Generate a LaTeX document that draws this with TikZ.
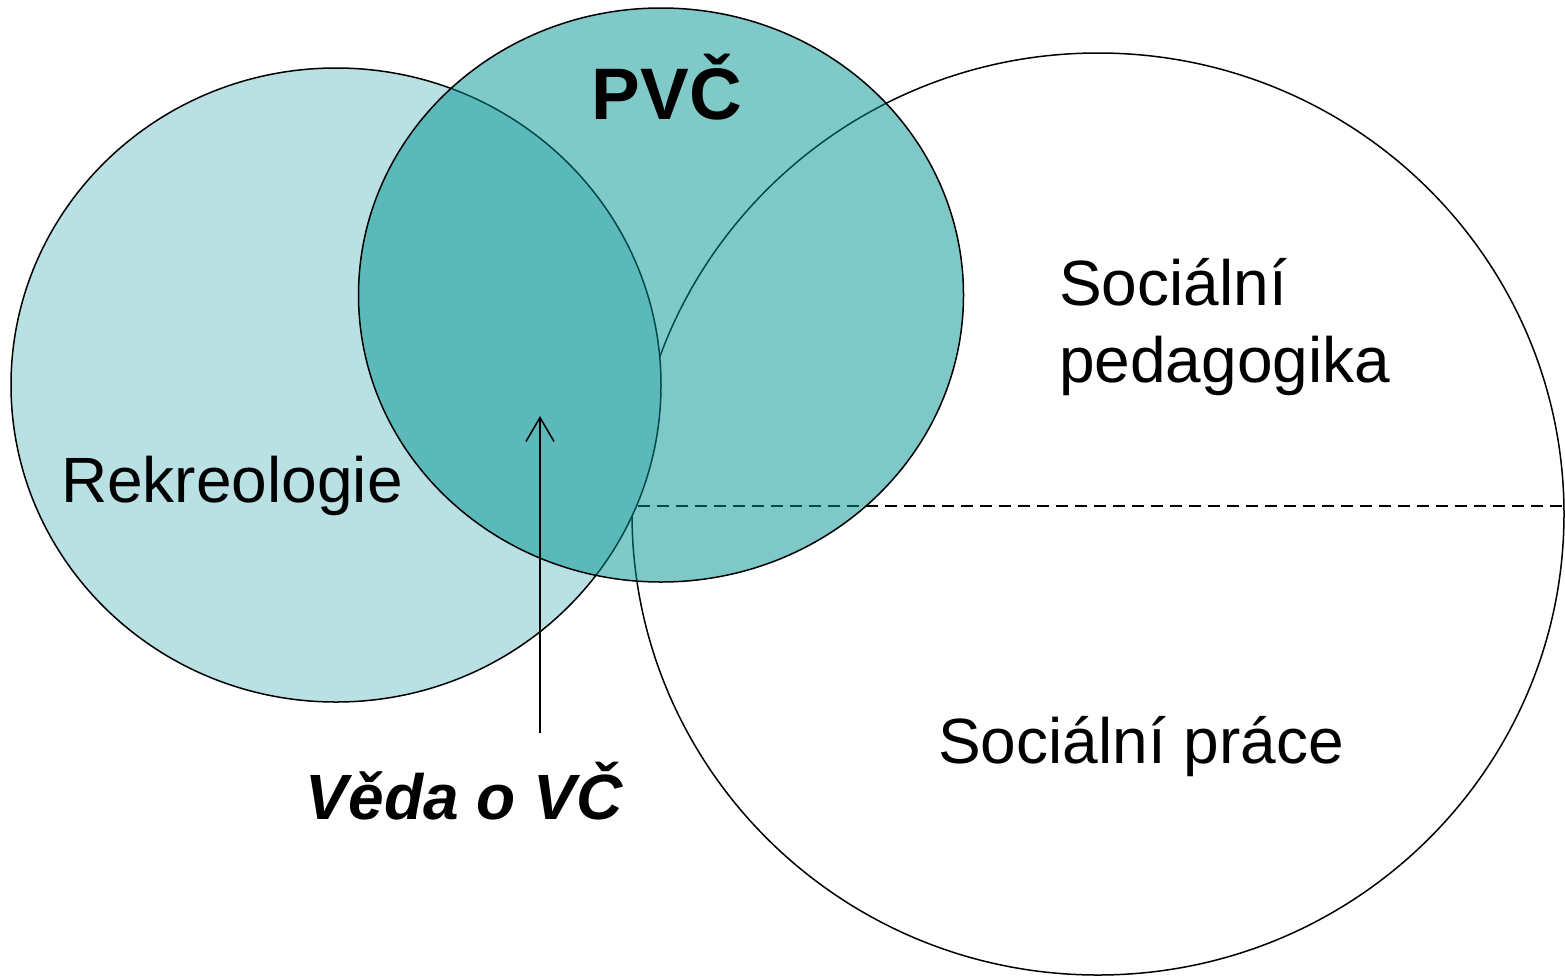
\documentclass[tikz,border=0pt]{standalone}
\usepackage{fontspec}
\setmainfont{Liberation Sans}
\usetikzlibrary{shapes.geometric,arrows.meta}
\definecolor{lightteal}{RGB}{185,224,227}
\definecolor{tealfill}{RGB}{0,147,147}
\tikzset{
  blob/.style={ellipse, draw=black, line width=1.5pt, inner sep=0pt},
  lbl/.style={inner sep=0pt, font=\fontsize{64}{77}\selectfont},
}
\begin{document}
\begin{tikzpicture}[x=1pt,y=-1pt]
\useasboundingbox (0,0) rectangle (1565,975);
% big white ellipse
\node[blob, fill=white, minimum width=932pt, minimum height=922pt] (soc) at (1098,514) {};
% dashed divider
\coordinate (dl) at (600,506);
\coordinate (dr) at (1565,506);
\draw[line width=1.5pt, dash pattern=on 12pt off 7pt] (dl) -- (dr);
% Rekreologie ellipse
\node[blob, fill=lightteal, minimum width=650pt, minimum height=634pt] (rek) at (336,385) {};
% PVC ellipse
\node[blob, fill=tealfill, fill opacity=0.5, draw opacity=1, minimum width=605pt, minimum height=574pt] (pvc) at (661,295) {};
% labels
\node[lbl, anchor=base, font=\fontsize{73}{88}\selectfont\bfseries] (tpvc) at (667,119) {PVČ};
\node[lbl, anchor=base west] (trek) at (61,502) {Rekreologie};
\node[lbl, anchor=base west, align=left] (tsp) at (1059,382) {Sociální\\pedagogika};
\node[lbl, anchor=base] (tspr) at (1141,763) {Sociální práce};
\node[lbl, anchor=base, font=\fontsize{64}{77}\selectfont\bfseries\itshape] (tveda) at (464,819) {Věda o VČ};
% arrow
\coordinate (as) at (540,733);
\coordinate (ae) at (540,416);
\draw[line width=1.5pt, -{Straight Barb[length=24pt,width=28pt,line width=1.5pt]}] (as) -- (ae);
\end{tikzpicture}
\end{document}
